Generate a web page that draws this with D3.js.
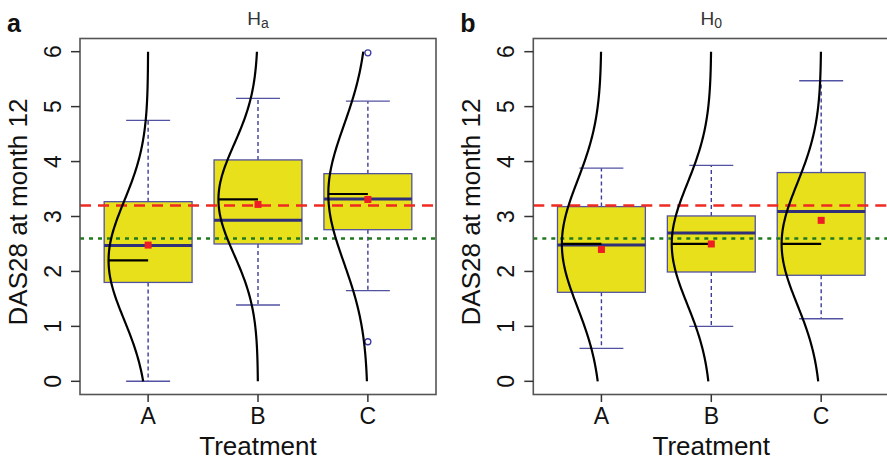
<!DOCTYPE html>
<html>
<head>
<meta charset="utf-8">
<script src="https://cdn.jsdelivr.net/npm/d3@7"></script>
<style>
  body { margin: 0; background: #fff; }
  text { font-family: "Liberation Sans", Arial, sans-serif; fill: #111; }
</style>
</head>
<body>
<div id="chart"></div>
<script>
// categories and tick labels
var categories = ["A", "B", "C"];
var yTicks = [0, 1, 2, 3, 4, 5, 6];

// panel a : H_a
var haQ1 = [1.80, 2.50, 2.76];
var haMedian = [2.47, 2.93, 3.32];
var haQ3 = [3.27, 4.03, 3.78];
var haWhiskLo = [0.00, 1.39, 1.65];
var haWhiskHi = [4.75, 5.15, 5.10];
var haMean = [2.48, 3.22, 3.31];
var haOutliers = [[], [], [5.98, 0.72]];
var haCurveMean = [2.20, 3.31, 3.41];
var haCurveSd = [1.08, 1.00, 1.25];

// panel b : H_0
var h0Q1 = [1.62, 1.99, 1.93];
var h0Median = [2.48, 2.70, 3.09];
var h0Q3 = [3.18, 3.01, 3.80];
var h0WhiskLo = [0.60, 1.00, 1.14];
var h0WhiskHi = [3.88, 3.93, 5.47];
var h0Mean = [2.40, 2.50, 2.93];
var h0Outliers = [[], [], []];
var h0CurveMean = [2.50, 2.50, 2.50];
var h0CurveSd = [1.15, 1.10, 1.10];

// reference lines
var redLine = 3.2;
var greenLine = 2.6;

var width = 887, height = 461;
var svg = d3.select("#chart").append("svg")
    .attr("width", width)
    .attr("height", height);

var boxFill = "#e8e01a";
var boxStroke = "#5252a2";
var medianColor = "#2f2f7a";

function drawPanel(left, tag, titleMain, titleSub, d) {
    var x = d3.scaleLinear().domain([0.38, 3.62]).range([left, left + 356]);
    var y = d3.scaleLinear().domain([-0.24, 6.24]).range([394.5, 38.5]);
    var g = svg.append("g");

    // boxes
    categories.forEach(function (c, i) {
        var cx = x(i + 1);
        var bw = x(1.4) - x(1);
        var cap = x(1.2) - x(1);
        // whiskers
        g.append("line")
            .attr("x1", cx).attr("x2", cx)
            .attr("y1", y(d.q3[i])).attr("y2", y(d.hi[i]))
            .attr("stroke", "#3c3c9a").attr("stroke-width", 1.4)
            .attr("stroke-dasharray", "4,3");
        g.append("line")
            .attr("x1", cx).attr("x2", cx)
            .attr("y1", y(d.q1[i])).attr("y2", y(d.lo[i]))
            .attr("stroke", "#3c3c9a").attr("stroke-width", 1.4)
            .attr("stroke-dasharray", "4,3");
        [d.hi[i], d.lo[i]].forEach(function (v) {
            g.append("line")
                .attr("x1", cx - cap).attr("x2", cx + cap)
                .attr("y1", y(v)).attr("y2", y(v))
                .attr("stroke", boxStroke).attr("stroke-width", 1.4);
        });
        g.append("rect")
            .attr("x", cx - bw).attr("width", 2 * bw)
            .attr("y", y(d.q3[i])).attr("height", y(d.q1[i]) - y(d.q3[i]))
            .attr("fill", boxFill)
            .attr("stroke", boxStroke).attr("stroke-width", 1.3);
        g.append("line")
            .attr("x1", cx - bw).attr("x2", cx + bw)
            .attr("y1", y(d.median[i])).attr("y2", y(d.median[i]))
            .attr("stroke", medianColor).attr("stroke-width", 3);
        d.outliers[i].forEach(function (v) {
            g.append("circle")
                .attr("cx", cx).attr("cy", y(v)).attr("r", 3)
                .attr("fill", "none").attr("stroke", "#3a3aa0").attr("stroke-width", 1.3);
        });
    });

    // reference lines
    g.append("line")
        .attr("x1", x.range()[0]).attr("x2", x.range()[1])
        .attr("y1", y(redLine)).attr("y2", y(redLine))
        .attr("stroke", "#ee2a22").attr("stroke-width", 2.6)
        .attr("stroke-dasharray", "11,7");
    g.append("line")
        .attr("x1", x.range()[0]).attr("x2", x.range()[1])
        .attr("y1", y(greenLine)).attr("y2", y(greenLine))
        .attr("stroke", "#1f7a1f").attr("stroke-width", 2.6)
        .attr("stroke-dasharray", "4,5");

    // normal curves, peak pushed 0.36 units to the left of the group
    var ys = d3.range(0, 6.001, 0.04);
    categories.forEach(function (c, i) {
        var m = d.cMean[i], s = d.cSd[i];
        var line = d3.line()
            .x(function (v) {
                var dens = Math.exp(-(v - m) * (v - m) / (2 * s * s));
                return x(i + 1 - 0.36 * dens);
            })
            .y(function (v) { return y(v); })
            .curve(d3.curveBasis);
        g.append("path")
            .attr("d", line(ys))
            .attr("fill", "none")
            .attr("stroke", "#000").attr("stroke-width", 2.2);
        g.append("line")
            .attr("x1", x(i + 1 - 0.36)).attr("x2", x(i + 1))
            .attr("y1", y(m)).attr("y2", y(m))
            .attr("stroke", "#000").attr("stroke-width", 2.2);
    });

    // means
    categories.forEach(function (c, i) {
        g.append("rect")
            .attr("x", x(i + 1) - 3.5).attr("y", y(d.mean[i]) - 3.5)
            .attr("width", 7).attr("height", 7)
            .attr("fill", "#ee1c24");
    });

    // frame
    g.append("rect")
        .attr("x", x.range()[0]).attr("y", y.range()[1])
        .attr("width", x.range()[1] - x.range()[0])
        .attr("height", y.range()[0] - y.range()[1])
        .attr("fill", "none").attr("stroke", "#555").attr("stroke-width", 1.6);

    // y axis
    yTicks.forEach(function (t) {
        g.append("line")
            .attr("x1", left - 9).attr("x2", left)
            .attr("y1", y(t)).attr("y2", y(t))
            .attr("stroke", "#333").attr("stroke-width", 1.5);
        g.append("text")
            .attr("transform", "translate(" + (left - 19) + "," + y(t) + ") rotate(-90)")
            .attr("text-anchor", "middle")
            .style("font-size", "23px")
            .text(t);
    });
    // x axis
    categories.forEach(function (c, i) {
        g.append("line")
            .attr("x1", x(i + 1)).attr("x2", x(i + 1))
            .attr("y1", 394.5).attr("y2", 402)
            .attr("stroke", "#333").attr("stroke-width", 1.5);
        g.append("text")
            .attr("x", x(i + 1)).attr("y", 424)
            .attr("text-anchor", "middle")
            .style("font-size", "23px")
            .text(c);
    });

    // titles
    g.append("text")
        .attr("x", left + 178).attr("y", 455)
        .attr("text-anchor", "middle")
        .style("font-size", "26px")
        .text("Treatment");
    g.append("text")
        .attr("transform", "translate(" + (left - 53) + ",212) rotate(-90)")
        .attr("text-anchor", "middle")
        .style("font-size", "26px")
        .text("DAS28 at month 12");
    var tt = g.append("text")
        .attr("x", left + 178).attr("y", 25)
        .attr("text-anchor", "middle")
        .style("font-size", "19px")
        .style("fill", "#333");
    tt.append("tspan").text(titleMain);
    tt.append("tspan").attr("dy", 3).style("font-size", "14px").text(titleSub);
    g.append("text")
        .attr("x", left - 73).attr("y", 32)
        .style("font-size", "25px")
        .style("font-weight", "bold")
        .text(tag);
}

drawPanel(80, "a", "H", "a", {
    q1: haQ1, median: haMedian, q3: haQ3, lo: haWhiskLo, hi: haWhiskHi,
    mean: haMean, outliers: haOutliers, cMean: haCurveMean, cSd: haCurveSd
});
drawPanel(533.3, "b", "H", "0", {
    q1: h0Q1, median: h0Median, q3: h0Q3, lo: h0WhiskLo, hi: h0WhiskHi,
    mean: h0Mean, outliers: h0Outliers, cMean: h0CurveMean, cSd: h0CurveSd
});
</script>
</body>
</html>
